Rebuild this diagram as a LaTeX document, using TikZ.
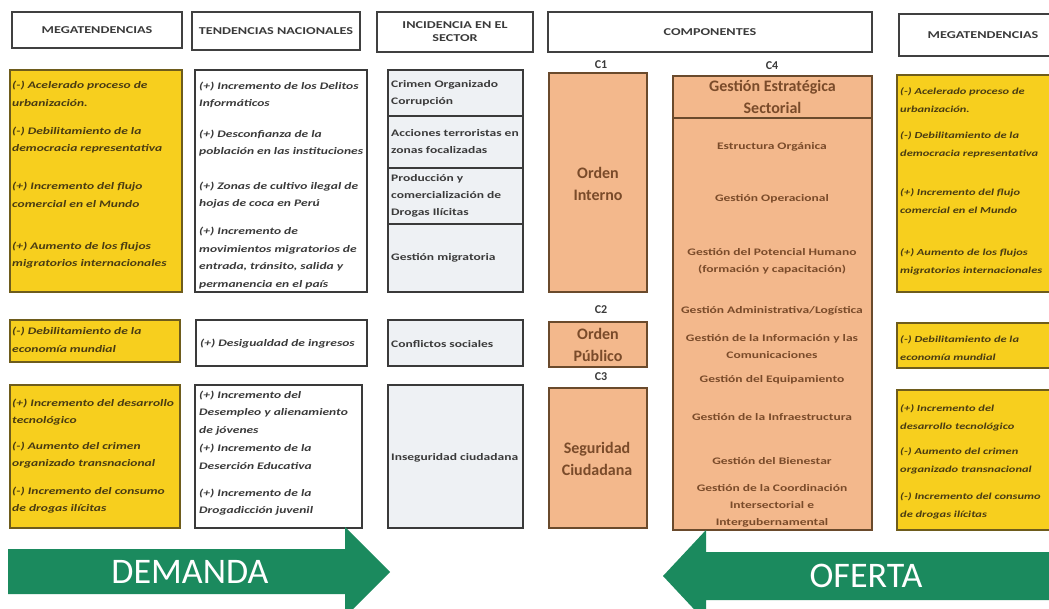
\documentclass[tikz,border=0pt]{standalone}
\usepackage{fontspec}
\setmainfont{Carlito}[FakeStretch=1.35]
\newfontfamily\plainfont{Carlito}
\usetikzlibrary{fit}
\definecolor{yel}{HTML}{F7CF1E}
\definecolor{yelline}{HTML}{6E5C1C}
\definecolor{ytext}{HTML}{4A3C12}
\definecolor{peach}{HTML}{F3B88C}
\definecolor{brline}{HTML}{6A4A2C}
\definecolor{brtext}{HTML}{7A4B2A}
\definecolor{incfill}{HTML}{EEF1F4}
\definecolor{grn}{HTML}{1B8A5E}
\definecolor{dk}{HTML}{3A3A3A}
\begin{document}
\begin{tikzpicture}[x=1pt,y=-1pt,
  ybox/.style={fill=yel,draw=yelline,line width=1.3pt,inner sep=0pt},
  wbox/.style={fill=white,draw=dk,line width=1.2pt,inner sep=0pt},
  ibox/.style={fill=incfill,draw=dk,line width=1.2pt,inner sep=0pt},
  pbox/.style={fill=peach,draw=brline,line width=1.3pt,inner sep=0pt},
  hbox/.style={fill=white,draw=black!75,line width=1.3pt,inner sep=0pt},
  htxt/.style={font=\bfseries\fontsize{10.5}{13}\selectfont,text=dk,align=center},
  ytxt/.style={font=\bfseries\itshape\fontsize{10}{17.5}\selectfont,text=ytext,align=left,anchor=west,inner sep=0pt},
  ytxtr/.style={ytxt,font=\bfseries\itshape\fontsize{9.2}{17.5}\selectfont},
  wtxt/.style={font=\bfseries\itshape\fontsize{10}{17.5}\selectfont,text=dk,align=left,anchor=west,inner sep=0pt},
  itxt/.style={font=\bfseries\fontsize{10}{17}\selectfont,text=dk,align=left,anchor=west,inner sep=0pt},
  ctxt/.style={font=\bfseries\fontsize{10}{17}\selectfont,text=brtext,align=center,inner sep=0pt},
  cbig/.style={font=\plainfont\bfseries\fontsize{16}{22}\selectfont,text=brtext,align=center},
  clab/.style={font=\plainfont\bfseries\fontsize{12}{14}\selectfont,text=dk},
  arr/.style={fill=grn},
  atxt/.style={font=\plainfont\fontsize{36}{40}\selectfont,text=white}
]
\useasboundingbox (0,0) rectangle (1049,609);
\clip (0,0) rectangle (1049,609);
\fill[white] (0,0) rectangle (1049,609);

% header row
\node[hbox,fit={(12,12)(182,48)}] (h1) {};
\node[htxt] (h1t) at (h1.center) {MEGATENDENCIAS};
\node[hbox,fit={(192,12)(360,50)}] (h2) {};
\node[htxt] (h2t) at (h2.center) {TENDENCIAS NACIONALES};
\node[hbox,fit={(377,12)(533,52)}] (h3) {};
\node[htxt] (h3t) at (h3.center) {INCIDENCIA EN EL\\SECTOR};
\node[hbox,fit={(548,12)(872,52)}] (h4) {};
\node[htxt] (h4t) at (h4.center) {COMPONENTES};
\node[hbox,fit={(899,14)(1060,56)}] (h5) {};
\node[htxt] (h5t) at (983,35) {MEGATENDENCIAS};

% ---------- row 1
\node[ybox,fit={(10,70)(182,292)}] (ly1) {};
\node[ytxt] (ly1a) at (12,94) {(-) Acelerado proceso de\\urbanización.};
\node[ytxt] (ly1b) at (12,140) {(-) Debilitamiento de la\\democracia representativa};
\node[ytxt] (ly1c) at (12,195) {(+) Incremento del flujo\\comercial en el Mundo};
\node[ytxt] (ly1d) at (12,255) {(+) Aumento de los flujos\\migratorios internacionales};

\node[wbox,fit={(195,70)(367,292)}] (tn1) {};
\node[wtxt] (tn1a) at (199,95) {(+) Incremento de los Delitos\\Informáticos};
\node[wtxt] (tn1b) at (199,143) {(+) Desconfianza de la\\población en las instituciones};
\node[wtxt] (tn1c) at (199,195) {(+) Zonas de cultivo ilegal de\\hojas de coca en Perú};
\node[wtxt] (tn1d) at (199,258) {(+) Incremento de\\movimientos migratorios de\\entrada, tránsito, salida y\\permanencia en el país};

\node[ibox,fit={(388,70)(523,116)}] (in1) {};
\node[itxt] (in1t) at (391,93) {Crimen Organizado\\Corrupción};
\node[ibox,fit={(388,116)(523,168)}] (in2) {};
\node[itxt] (in2t) at (391,142) {Acciones terroristas en\\zonas focalizadas};
\node[ibox,fit={(388,168)(523,224)}] (in3) {};
\node[itxt] (in3t) at (391,196) {Producción y\\comercialización de\\Drogas Ilícitas};
\node[ibox,fit={(388,224)(523,292)}] (in4) {};
\node[itxt] (in4t) at (391,258) {Gestión migratoria};

\node[clab] (c1l) at (601,65) {C1};
\node[pbox,fit={(549,73)(647,292)}] (c1) {};
\node[cbig] (c1t) at (598,184) {Orden\\Interno};

\node[clab] (c4l) at (772,66) {C4};
\node[pbox,fit={(673,76)(872,530)}] (c4) {};
\node[pbox,fit={(673,76)(872,118)}] (c4h) {};
\node[cbig] (c4ht) at (c4h.center) {Gestión Estratégica\\Sectorial};
\node[ctxt] (c4a) at (772,147) {Estructura Orgánica};
\node[ctxt] (c4b) at (772,199) {Gestión Operacional};
\node[ctxt] (c4c) at (772,261) {Gestión del Potencial Humano\\(formación y capacitación)};
\node[ctxt] (c4d) at (772,311) {Gestión Administrativa/Logística};
\node[ctxt] (c4e) at (772,347) {Gestión de la Información y las\\Comunicaciones};
\node[ctxt] (c4f) at (772,380) {Gestión del Equipamiento};
\node[ctxt] (c4g) at (772,417) {Gestión de la Infraestructura};
\node[ctxt] (c4h2) at (772,461) {Gestión del Bienestar};
\node[ctxt] (c4i) at (772,506) {Gestión de la Coordinación\\Intersectorial e\\Intergubernamental};

\node[ybox,fit={(897,75)(1060,292)}] (ry1) {};
\node[ytxtr] (ry1a) at (900,100) {(-) Acelerado proceso de\\urbanización.};
\node[ytxtr] (ry1b) at (900,145) {(-) Debilitamiento de la\\democracia representativa};
\node[ytxtr] (ry1c) at (900,201) {(+) Incremento del flujo\\comercial en el Mundo};
\node[ytxtr] (ry1d) at (900,262) {(+) Aumento de los flujos\\migratorios internacionales};

% ---------- row 2
\node[ybox,fit={(10,320)(180,362)}] (ly2) {};
\node[ytxt] (ly2a) at (12,340) {(-) Debilitamiento de la\\economía mundial};
\node[wbox,fit={(196,320)(367,366)}] (tn2) {};
\node[wtxt] (tn2a) at (200,344) {(+) Desigualdad de ingresos};
\node[ibox,fit={(388,320)(523,366)}] (in5) {};
\node[itxt] (in5t) at (391,344) {Conflictos sociales};
\node[clab] (c2l) at (601,310) {C2};
\node[pbox,fit={(549,322)(647,367)}] (c2) {};
\node[cbig] (c2t) at (c2.center) {Orden\\Público};
\node[ybox,fit={(897,323)(1060,368)}] (ry2) {};
\node[ytxtr] (ry2a) at (900,348) {(-) Debilitamiento de la\\economía mundial};

% ---------- row 3
\node[ybox,fit={(10,385)(180,528)}] (ly3) {};
\node[ytxt] (ly3a) at (12,412) {(+) Incremento del desarrollo\\tecnológico};
\node[ytxt] (ly3b) at (12,455) {(-) Aumento del crimen\\organizado transnacional};
\node[ytxt] (ly3c) at (12,500) {(-) Incremento del consumo\\de drogas ilícitas};
\node[wbox,fit={(195,385)(362,528)}] (tn3) {};
\node[wtxt] (tn3a) at (199,413) {(+) Incremento del\\Desempleo y alienamiento\\de jóvenes};
\node[wtxt] (tn3b) at (199,457) {(+) Incremento de la\\Deserción Educativa};
\node[wtxt] (tn3c) at (199,502) {(+) Incremento de la\\Drogadicción juvenil};
\node[ibox,fit={(388,385)(523,528)}] (in6) {};
\node[itxt] (in6t) at (391,458) {Inseguridad ciudadana};
\node[clab] (c3l) at (601,377) {C3};
\node[pbox,fit={(549,388)(647,528)}] (c3) {};
\node[cbig] (c3t) at (597,459) {Seguridad\\Ciudadana};
\node[ybox,fit={(897,390)(1060,530)}] (ry3) {};
\node[ytxtr] (ry3a) at (900,418) {(+) Incremento del\\desarrollo tecnológico};
\node[ytxtr] (ry3b) at (900,461) {(-) Aumento del crimen\\organizado transnacional};
\node[ytxtr] (ry3c) at (900,506) {(-) Incremento del consumo\\de drogas ilícitas};

% ---------- arrows
\fill[arr] (8,549) -- (345,549) -- (345,527) -- (390,572) -- (345,617) -- (345,594) -- (8,594) -- cycle;
\node[atxt] (dem) at (190,572) {DEMANDA};
\fill[arr] (1060,552) -- (706,552) -- (706,530) -- (663,576) -- (706,622) -- (706,600) -- (1060,600) -- cycle;
\node[atxt] (ofe) at (866,576) {OFERTA};
\end{tikzpicture}
\end{document}
